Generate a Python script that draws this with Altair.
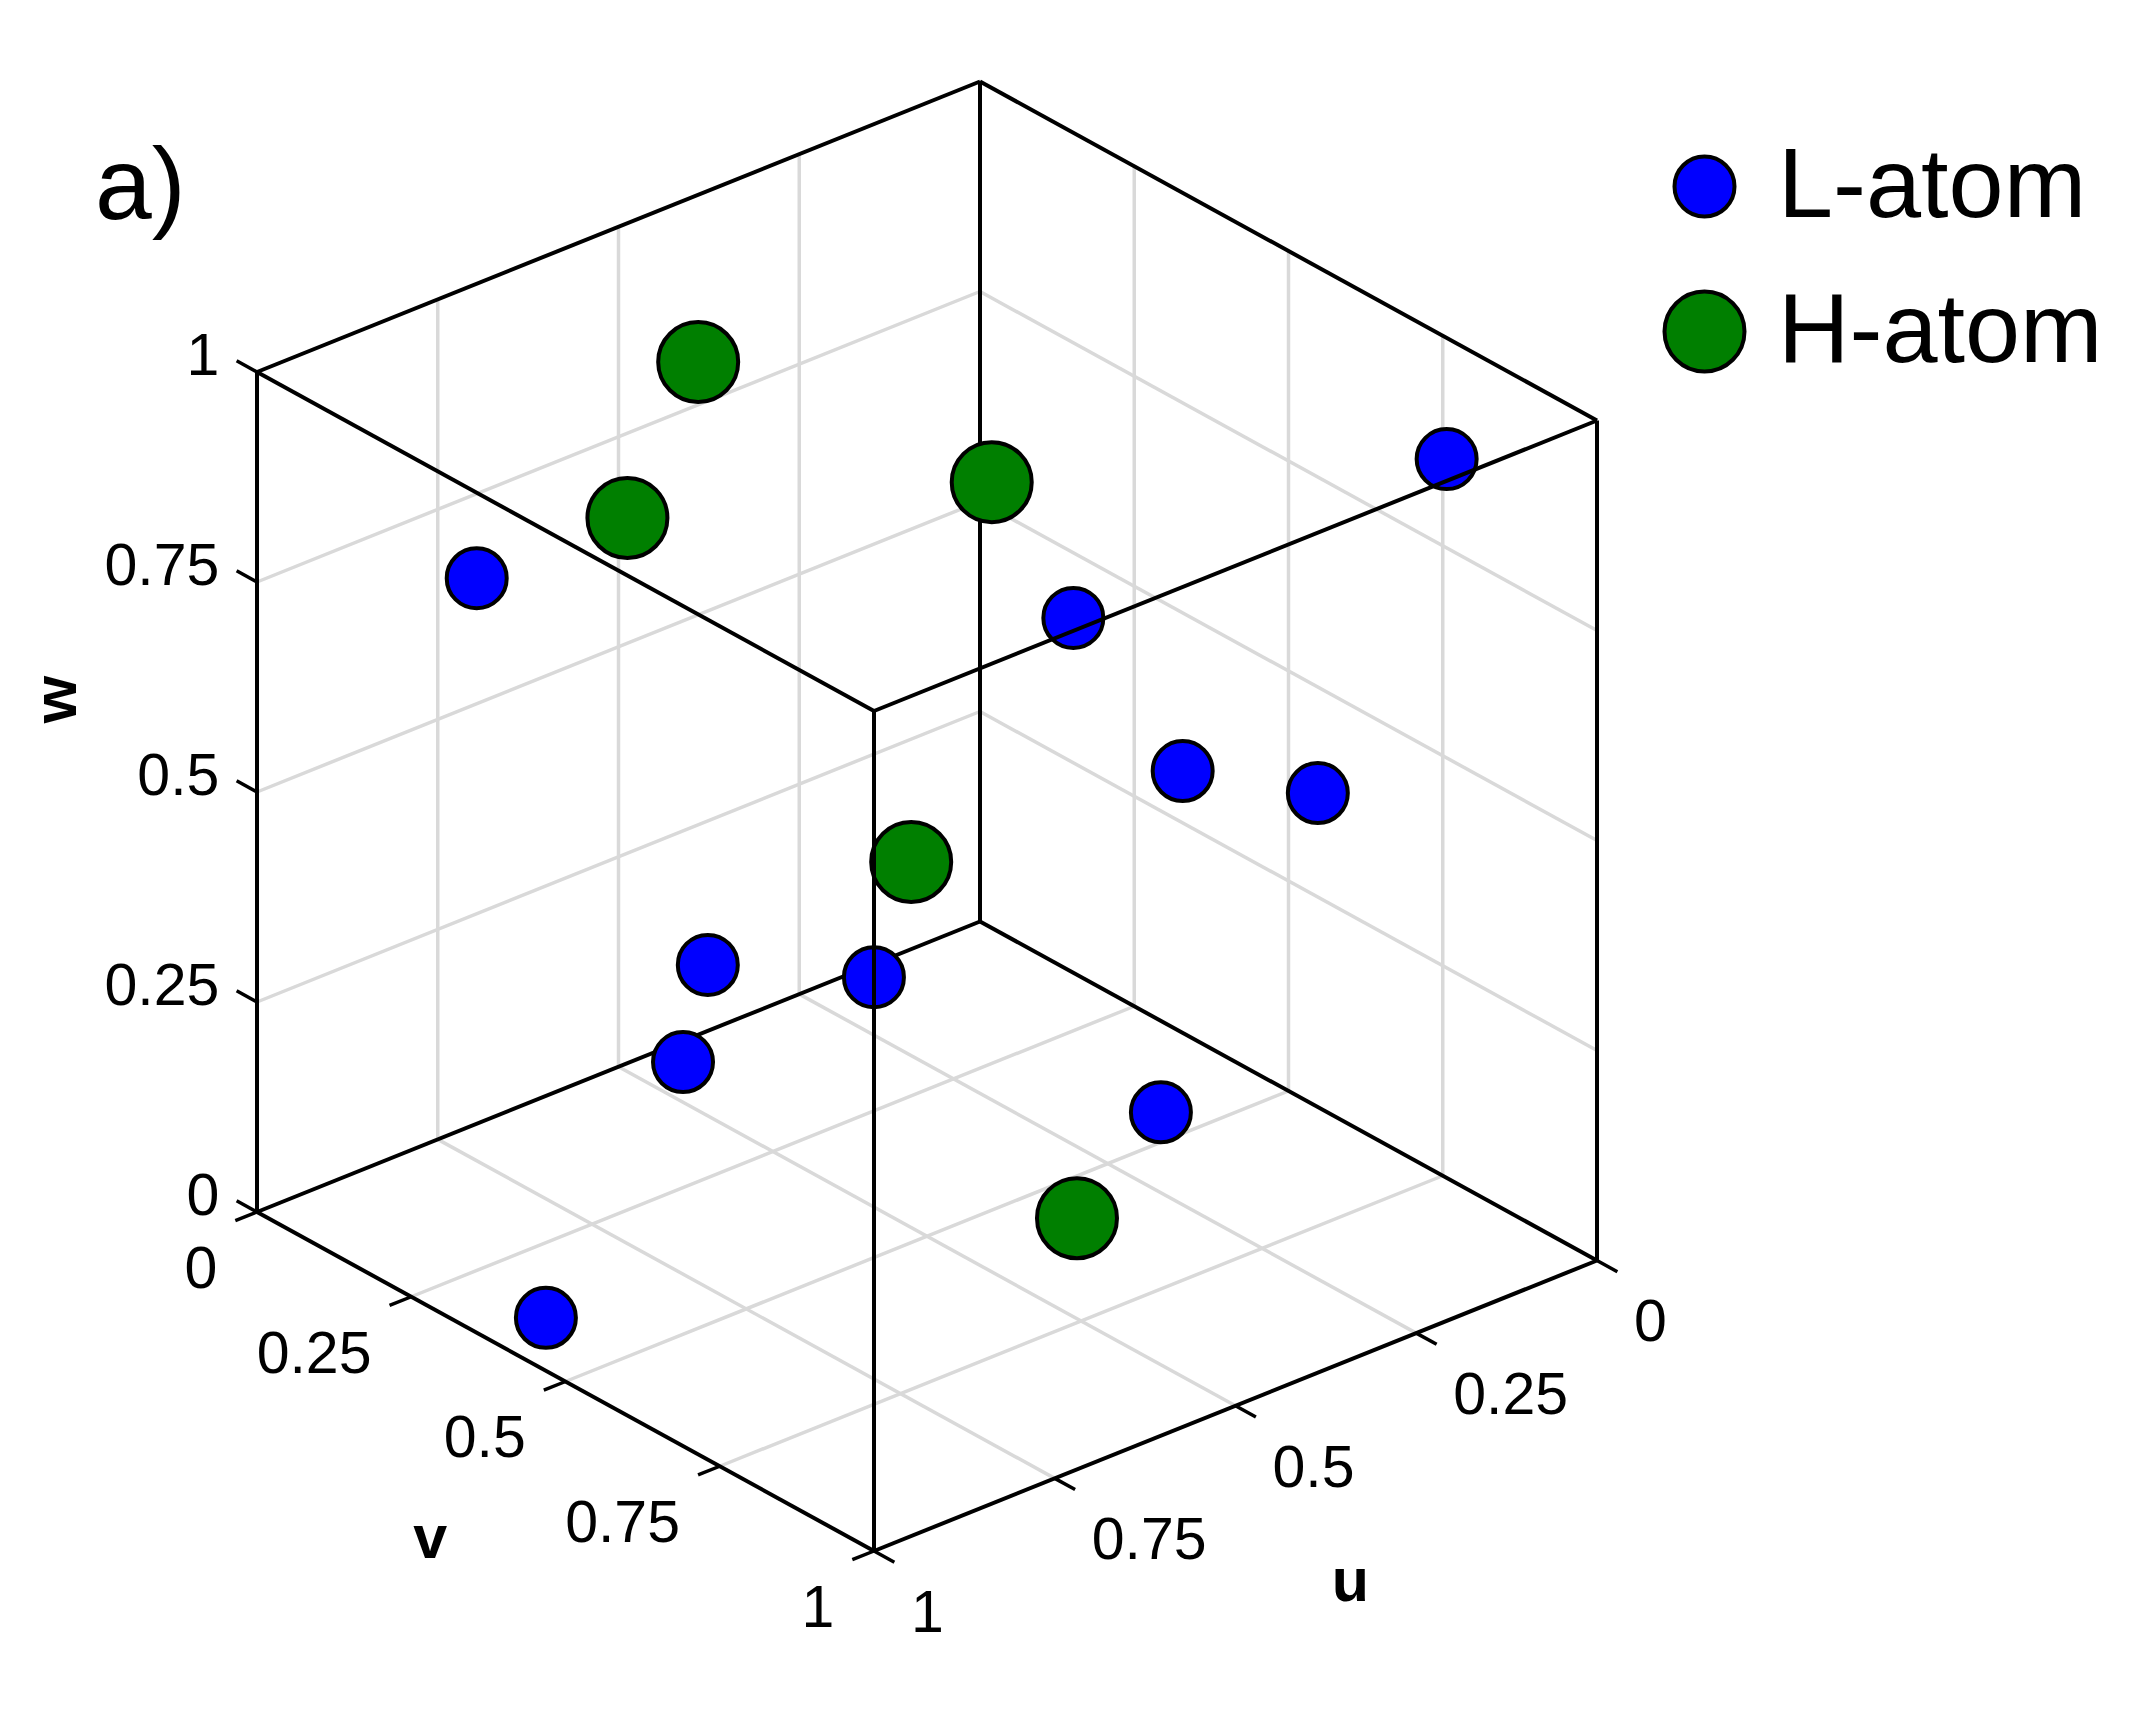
import altair as alt
import pandas as pd

# atom fractional coordinates (u, v, w)
L_U = [0.819, 0.103, 0.400, 0.230, 0.154, 0.647, 0.471, 0.747, 0.255, 0.923]
L_V = [0.144, 0.877, 0.620, 0.598, 0.728, 0.317, 0.380, 0.394, 0.592, 0.378]
L_W = [0.750, 0.940, 0.750, 0.500, 0.500, 0.300, 0.250, 0.250, 0.100, 0.000]
H_U = [0.633, 0.672, 0.390, 0.457, 0.354]
H_V = [0.285, 0.216, 0.476, 0.424, 0.572]
H_W = [1.000, 0.800, 0.850, 0.400, 0.000]
SPECIES = ["L-atom", "H-atom"]
SPECIES_COLORS = ["#0000ff", "#007f00"]
TICKS = [0, 0.25, 0.5, 0.75, 1]
TICK_LABELS = ["0", "0.25", "0.5", "0.75", "1"]
INNER = [0.25, 0.5, 0.75]

# oblique view of the unit cube, in the picture's units
PX = "980 - 723*datum.{0} + 617*datum.{1}"
PY = "921.5 + 290.5*datum.{0} + 339*datum.{1} - 840*datum.{2}"


def segs(pairs):
    return pd.DataFrame(
        [dict(u=a[0], v=a[1], w=a[2], u2=b[0], v2=b[1], w2=b[2]) for a, b in pairs]
    )


grid_pairs = []
for t in INNER:
    grid_pairs += [
        ((t, 0, 0), (t, 0, 1)), ((0, 0, t), (1, 0, t)),
        ((0, t, 0), (0, t, 1)), ((0, 0, t), (0, 1, t)),
        ((t, 0, 0), (t, 1, 0)), ((0, t, 0), (1, t, 0)),
    ]
back_pairs = [((0, 0, 0), (1, 0, 0)), ((0, 0, 0), (0, 1, 0)), ((0, 0, 0), (0, 0, 1))]
front_pairs = [
    ((1, 0, 0), (1, 1, 0)), ((0, 1, 0), (1, 1, 0)),
    ((1, 0, 0), (1, 0, 1)), ((0, 1, 0), (0, 1, 1)), ((1, 1, 0), (1, 1, 1)),
    ((0, 0, 1), (1, 0, 1)), ((0, 0, 1), (0, 1, 1)),
    ((1, 0, 1), (1, 1, 1)), ((0, 1, 1), (1, 1, 1)),
]
tick_pairs = []
for t in TICKS:
    tick_pairs += [
        ((1, -0.033, t), (1, 0, t)),
        ((1.03, t, 0), (1, t, 0)),
        ((t, 1.033, 0), (t, 1, 0)),
    ]

xs = alt.Scale(domain=[8, 2144], nice=False, zero=False)
ys = alt.Scale(domain=[1720, 8], nice=False, zero=False)
X = alt.X("px:Q", scale=xs, axis=None)
Y = alt.Y("py:Q", scale=ys, axis=None)


def project(ch):
    return ch.transform_calculate(
        px=PX.format("u", "v"), py=PY.format("u", "v", "w")
    )


def rules(pairs, color, width):
    return (
        alt.Chart(segs(pairs))
        .mark_rule(color=color, strokeWidth=width)
        .transform_calculate(
            px=PX.format("u", "v"), py=PY.format("u", "v", "w"),
            px2=PX.format("u2", "v2"), py2=PY.format("u2", "v2", "w2"),
        )
        .encode(x=X, y=Y, x2="px2:Q", y2="py2:Q")
    )


atoms = pd.DataFrame(
    [dict(u=a, v=b, w=c, species=SPECIES[0]) for a, b, c in zip(L_U, L_V, L_W)]
    + [dict(u=a, v=b, w=c, species=SPECIES[1]) for a, b, c in zip(H_U, H_V, H_W)]
)
legend = alt.Legend(
    title=None, orient="none", legendX=1647, legendY=129,
    labelFontSize=99, labelFont="Liberation Sans", labelColor="black",
    symbolStrokeWidth=4, symbolOpacity=1,
    symbolType="circle", rowPadding=45, labelOffset=24, labelLimit=500,
)
atom_layer = project(
    alt.Chart(atoms).mark_point(filled=True, opacity=1, shape="circle", strokeWidth=4)
).encode(
    x=X, y=Y,
    fill=alt.Fill(
        "species:N",
        scale=alt.Scale(domain=SPECIES, range=SPECIES_COLORS),
        legend=legend,
    ),
    stroke=alt.Stroke(
        "species:N",
        scale=alt.Scale(domain=SPECIES, range=["black", "black"]),
        legend=legend,
    ),
    size=alt.Size(
        "species:N",
        scale=alt.Scale(domain=SPECIES, range=[3600, 6400]),
        legend=legend,
    ),
)


def labels(rows, align, size=59, weight="normal", angle=0, dy=4):
    return project(
        alt.Chart(pd.DataFrame(rows)).mark_text(
            align=align, baseline="middle", fontSize=size, fontWeight=weight,
            font="Liberation Sans", color="black", angle=angle, dy=dy,
        )
    ).encode(x=X, y=Y, text="t:N")


w_labels = labels(
    [dict(u=1, v=-0.061, w=t, t=s) for t, s in zip(TICKS, TICK_LABELS)], "right", dy=6
)
v_labels = labels(
    [dict(u=1.055, v=t, w=-0.045, t=s) for t, s in zip(TICKS, TICK_LABELS)], "right"
)
u_labels = labels(
    [dict(u=t, v=1.06, w=-0.046, t=s) for t, s in zip(TICKS, TICK_LABELS)], "left"
)
u_title = labels([dict(u=0.5, v=1.186, w=-0.139, t="u")], "center", 61, "bold", dy=-3)
v_title = labels([dict(u=1.187, v=0.5, w=-0.127, t="v")], "center", 61, "bold", dy=-3)
w_title = labels([dict(u=1, v=-0.3225, w=0.48, t="w")], "center", 61, "bold", 270, dy=0)

chart = (
    alt.layer(
        rules(grid_pairs, "#d9d9d9", 3.5),
        rules(back_pairs, "black", 4),
        atom_layer,
        rules(front_pairs, "black", 4),
        rules(tick_pairs, "black", 3.5),
        w_labels, v_labels, u_labels, u_title, v_title, w_title,
    )
    .properties(
        width=2136, height=1712, padding=0,
        autosize=alt.AutoSizeParams(type="none"),
        title=alt.TitleParams(
            "a)", anchor="start", frame="group", fontSize=102, fontWeight="normal",
            font="Liberation Sans", color="black", dx=87, dy=232, offset=0,
        ),
    )
    .configure_view(stroke=None)
    .resolve_scale(x="shared", y="shared")
)

chart.save("out.html", embed_options={"renderer": "svg", "actions": False})
